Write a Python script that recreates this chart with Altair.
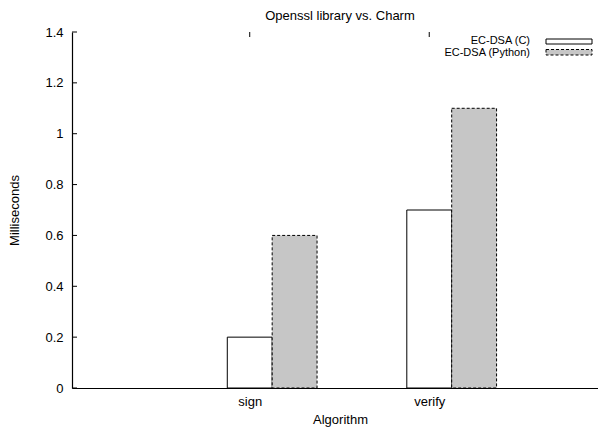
import altair as alt
import pandas as pd

categories = ["sign", "verify"]
series = ["EC-DSA (C)", "EC-DSA (Python)"]
c_values = [0.2, 0.7]
python_values = [0.6, 1.1]
y_ticks = [0, 0.2, 0.4, 0.6, 0.8, 1.0, 1.2, 1.4]
title_text = "Openssl library vs. Charm"
x_title = "Algorithm"
y_title = "Milliseconds"

BW = 0.25
FONT = "Liberation Sans"
FS = 13
LEG_FS = 11

rows = []
for i, cat in enumerate(categories):
    rows.append({"idx": i, "category": cat, "series": series[0], "value": c_values[i], "slot": 0})
    rows.append({"idx": i, "category": cat, "series": series[1], "value": python_values[i], "slot": 1})
df = pd.DataFrame(rows)
cat_df = pd.DataFrame({"idx": list(range(len(categories))), "category": categories})
ytick_df = pd.DataFrame({"v": y_ticks})
title_df = pd.DataFrame({"t": [title_text]})

label_expr = "[" + ",".join("'" + c + "'" for c in categories) + "][datum.value]"

xscale = alt.Scale(domain=[-0.99, 1.94], nice=False, zero=False)
yscale = alt.Scale(domain=[0, 1.4], nice=False)

base = alt.Chart(df).transform_calculate(
    x0=f"datum.idx - {BW}/2 + datum.slot*{BW}",
    x1=f"datum.idx + {BW}/2 + datum.slot*{BW}",
)

xaxis = alt.Axis(values=list(range(len(categories))), labelExpr=label_expr, ticks=False,
                 grid=False, domainColor="black", domainWidth=1.2, labelPadding=7,
                 labelFontSize=FS, labelColor="black", title=x_title, titleFontSize=FS,
                 titleFontWeight="normal", titleColor="black", titleX=268, titleY=35,
                 titleBaseline="alphabetic")
yaxis = alt.Axis(values=y_ticks, format="~g", ticks=False, grid=False, domainColor="black",
                 domainWidth=1.2, labelPadding=9, labelFontSize=FS, labelColor="black",
                 title=y_title, titleFontSize=FS, titleFontWeight="normal", titleColor="black",
                 titleX=-54, titleY=178, titleAngle=270, titleAlign="center",
                 titleBaseline="alphabetic")

c_bars = base.transform_filter("datum.slot == 0").mark_rect(
    fill="white", stroke="black", strokeWidth=1
).encode(
    x=alt.X("x0:Q", scale=xscale, axis=xaxis),
    x2="x1:Q",
    y=alt.Y("value:Q", scale=yscale, axis=yaxis),
    y2=alt.datum(0),
)

py_bars = base.transform_filter("datum.slot == 1").mark_rect(
    fill="#c6c6c6", stroke="black", strokeWidth=1, strokeDash=[3, 2]
).encode(
    x=alt.X("x0:Q", scale=xscale),
    x2="x1:Q",
    y=alt.Y("value:Q", scale=yscale),
    y2=alt.datum(0),
)

top_ticks = alt.Chart(cat_df).mark_rule(color="black", strokeWidth=1).encode(
    x=alt.X("idx:Q", scale=xscale),
    y=alt.value(0),
    y2=alt.value(5),
)

y_tick_marks = alt.Chart(ytick_df).mark_rule(color="black", strokeWidth=1).encode(
    y=alt.Y("v:Q", scale=yscale),
    x=alt.value(0),
    x2=alt.value(5),
)

title_mark = alt.Chart(title_df).mark_text(
    align="center", baseline="alphabetic", fontSize=FS, font=FONT, color="black"
).encode(text="t:N", x=alt.value(268), y=alt.value(-12.5))

leg_c_df = pd.DataFrame({"series": [series[0]]})
leg_p_df = pd.DataFrame({"series": [series[1]]})

leg_c_text = alt.Chart(leg_c_df).mark_text(align="right", baseline="middle", fontSize=LEG_FS, font=FONT, color="black").encode(
    text="series:N", x=alt.value(458), y=alt.value(9))
leg_p_text = alt.Chart(leg_p_df).mark_text(align="right", baseline="middle", fontSize=LEG_FS, font=FONT, color="black").encode(
    text="series:N", x=alt.value(458), y=alt.value(21))
leg_c_box = alt.Chart(leg_c_df).mark_rect(fill="white", stroke="black", strokeWidth=1).encode(
    x=alt.value(474), x2=alt.value(520), y=alt.value(7), y2=alt.value(12))
leg_p_box = alt.Chart(leg_p_df).mark_rect(fill="#c6c6c6", stroke="black", strokeWidth=1, strokeDash=[3, 2]).encode(
    x=alt.value(474), x2=alt.value(520), y=alt.value(17.5), y2=alt.value(23))

chart = alt.layer(
    c_bars, py_bars, top_ticks, y_tick_marks, title_mark,
    leg_c_text, leg_p_text, leg_c_box, leg_p_box
).properties(
    width=526,
    height=356,
    padding={"left": 72, "top": 32, "right": 0, "bottom": 44},
    autosize=alt.AutoSizeParams(type="none"),
).configure(font=FONT).configure_view(strokeWidth=0)

chart.save("out.html", embed_options={"renderer": "svg", "actions": False})
